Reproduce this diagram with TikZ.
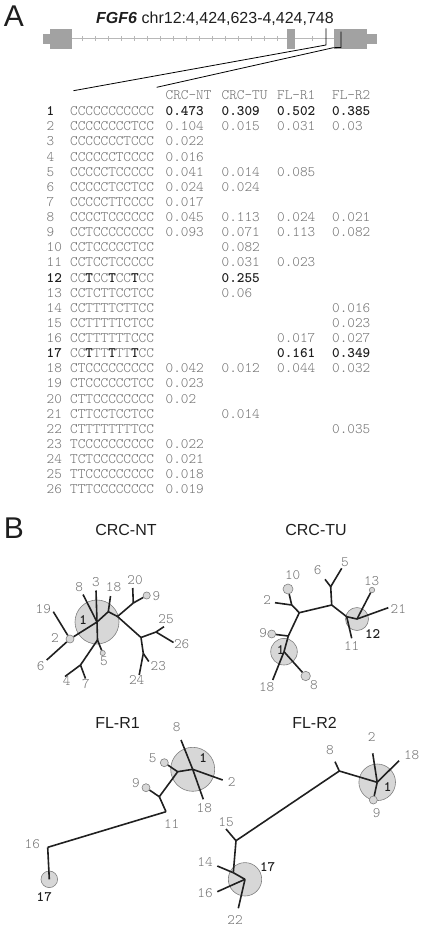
\documentclass[tikz,border=0pt]{standalone}
\usepackage{fontspec}
\newfontfamily\arialfont{Liberation Sans}
\definecolor{tabgray}{HTML}{707070}
\definecolor{darktext}{HTML}{1E1E1E}
\definecolor{hapfill}{HTML}{D7D7D7}
\definecolor{hapline}{HTML}{808080}
\definecolor{exonfill}{HTML}{A2A2A2}
\definecolor{introncol}{HTML}{B8B8B8}
\definecolor{linkcol}{HTML}{202020}
\newcommand\tabfont{\ttfamily\fontseries{l}\fontsize{14.5}{17}\selectfont}
\newcommand\tabbfont{\ttfamily\fontseries{b}\fontsize{14.5}{17}\selectfont}
\newcommand\boldT{{\color{darktext}\bfseries T}}
\tikzset{
  tab/.style={font=\tabfont, text=tabgray, anchor=base west, inner sep=0pt},
  tabb/.style={font=\tabbfont, text=darktext, anchor=base west, inner sep=0pt},
  lab/.style={font=\tabfont, text=tabgray, inner sep=0pt},
  labb/.style={font=\tabbfont, text=darktext, inner sep=0pt},
  hap/.style={circle, draw=hapline, fill=hapfill, line width=0.6pt, inner sep=0pt},
  link/.style={line width=1.6pt, draw=linkcol},
  ttl/.style={font={\arialfont\fontsize{16}{19}\selectfont}, text=darktext, anchor=base, inner sep=0pt},
  panel/.style={font={\arialfont\fontsize{30}{34}\selectfont}, text=darktext, anchor=base, inner sep=0pt},
  exon/.style={fill=exonfill, draw=none}
}
\begin{document}
\begin{tikzpicture}[x=1pt,y=-1pt]
\useasboundingbox (0,0) rectangle (423,928);
% panel A: gene model
\node[panel] (pA) at (14,26.7) {A};
\node[anchor=base, inner sep=0pt, text=darktext, font={\arialfont\fontsize{16}{19}\selectfont}] (gene) at (215,23.3) {\textbf{\textit{FGF6}} chr12:4,424,623-4,424,748};
\draw[introncol, line width=1pt] (43,39) -- (377,39);
\foreach \x in {82,95,...,282,312} \draw[introncol, line width=0.8pt] (\x,36.5) -- (\x,41.5);
\fill[exon] (43.3,34.3) rectangle (50,44.3);
\fill[exon] (50,29) rectangle (71.7,49.3);
\fill[exon] (287.3,29) rectangle (295,49.3);
\fill[exon] (334,29) rectangle (366.7,49.3);
\fill[exon] (366.7,34.3) rectangle (376.7,44.3);
\draw[line width=0.8pt] (326,28.3) -- (326,45) -- (73.5,90.7);
\draw[line width=0.8pt] (341,31.7) -- (341,47.5) -- (333.3,47.7) -- (156.7,87.3);
% table header
\node[tab] (hNT) at (165.5,100) {CRC-NT};
\node[tab] (hTU) at (221.5,100) {CRC-TU};
\node[tab] (hR1) at (277,100) {FL-R1};
\node[tab] (hR2) at (332,100) {FL-R2};
% table rows
\node[tabb] (r1n) at (46.5,115.7) {1}; \node[tab] (r1s) at (70,115.7) {CCCCCCCCCCC};
\node[tabb] (r1a) at (165.5,115.7) {0.473}; \node[tabb] (r1b) at (221.5,115.7) {0.309}; \node[tabb] (r1c) at (277,115.7) {0.502}; \node[tabb] (r1d) at (332,115.7) {0.385};
\node[tab] (r2n) at (46.5,130.8) {2}; \node[tab] (r2s) at (70,130.8) {CCCCCCCCTCC};
\node[tab] (r2a) at (165.5,130.8) {0.104}; \node[tab] (r2b) at (221.5,130.8) {0.015}; \node[tab] (r2c) at (277,130.8) {0.031}; \node[tab] (r2d) at (332,130.8) {0.03};
\node[tab] (r3n) at (46.5,145.9) {3}; \node[tab] (r3s) at (70,145.9) {CCCCCCCTCCC}; \node[tab] (r3a) at (165.5,145.9) {0.022};
\node[tab] (r4n) at (46.5,161.1) {4}; \node[tab] (r4s) at (70,161.1) {CCCCCCTCCCC}; \node[tab] (r4a) at (165.5,161.1) {0.016};
\node[tab] (r5n) at (46.5,176.2) {5}; \node[tab] (r5s) at (70,176.2) {CCCCCTCCCCC};
\node[tab] (r5a) at (165.5,176.2) {0.041}; \node[tab] (r5b) at (221.5,176.2) {0.014}; \node[tab] (r5c) at (277,176.2) {0.085};
\node[tab] (r6n) at (46.5,191.3) {6}; \node[tab] (r6s) at (70,191.3) {CCCCCTCCTCC}; \node[tab] (r6a) at (165.5,191.3) {0.024}; \node[tab] (r6b) at (221.5,191.3) {0.024};
\node[tab] (r7n) at (46.5,206.4) {7}; \node[tab] (r7s) at (70,206.4) {CCCCCTTCCCC}; \node[tab] (r7a) at (165.5,206.4) {0.017};
\node[tab] (r8n) at (46.5,221.5) {8}; \node[tab] (r8s) at (70,221.5) {CCCCTCCCCCC};
\node[tab] (r8a) at (165.5,221.5) {0.045}; \node[tab] (r8b) at (221.5,221.5) {0.113}; \node[tab] (r8c) at (277,221.5) {0.024}; \node[tab] (r8d) at (332,221.5) {0.021};
\node[tab] (r9n) at (46.5,236.7) {9}; \node[tab] (r9s) at (70,236.7) {CCTCCCCCCCC};
\node[tab] (r9a) at (165.5,236.7) {0.093}; \node[tab] (r9b) at (221.5,236.7) {0.071}; \node[tab] (r9c) at (277,236.7) {0.113}; \node[tab] (r9d) at (332,236.7) {0.082};
\node[tab] (r10n) at (46.5,251.8) {10}; \node[tab] (r10s) at (70,251.8) {CCTCCCCCTCC}; \node[tab] (r10b) at (221.5,251.8) {0.082};
\node[tab] (r11n) at (46.5,266.9) {11}; \node[tab] (r11s) at (70,266.9) {CCTCCTCCCCC}; \node[tab] (r11b) at (221.5,266.9) {0.031}; \node[tab] (r11c) at (277,266.9) {0.023};
\node[tabb] (r12n) at (46.5,282.0) {12}; \node[tab] (r12s) at (70,282.0) {CC\boldT CC\boldT CC\boldT CC}; \node[tabb] (r12b) at (221.5,282.0) {0.255};
\node[tab] (r13n) at (46.5,297.1) {13}; \node[tab] (r13s) at (70,297.1) {CCTCTTCCTCC}; \node[tab] (r13b) at (221.5,297.1) {0.06};
\node[tab] (r14n) at (46.5,312.3) {14}; \node[tab] (r14s) at (70,312.3) {CCTTTTCTTCC}; \node[tab] (r14d) at (332,312.3) {0.016};
\node[tab] (r15n) at (46.5,327.4) {15}; \node[tab] (r15s) at (70,327.4) {CCTTTTTCTCC}; \node[tab] (r15d) at (332,327.4) {0.023};
\node[tab] (r16n) at (46.5,342.5) {16}; \node[tab] (r16s) at (70,342.5) {CCTTTTTTCCC}; \node[tab] (r16c) at (277,342.5) {0.017}; \node[tab] (r16d) at (332,342.5) {0.027};
\node[tabb] (r17n) at (46.5,357.6) {17}; \node[tab] (r17s) at (70,357.6) {CC\boldT TT\boldT TT\boldT CC}; \node[tabb] (r17c) at (277,357.6) {0.161}; \node[tabb] (r17d) at (332,357.6) {0.349};
\node[tab] (r18n) at (46.5,372.7) {18}; \node[tab] (r18s) at (70,372.7) {CTCCCCCCCCC};
\node[tab] (r18a) at (165.5,372.7) {0.042}; \node[tab] (r18b) at (221.5,372.7) {0.012}; \node[tab] (r18c) at (277,372.7) {0.044}; \node[tab] (r18d) at (332,372.7) {0.032};
\node[tab] (r19n) at (46.5,387.9) {19}; \node[tab] (r19s) at (70,387.9) {CTCCCCCCTCC}; \node[tab] (r19a) at (165.5,387.9) {0.023};
\node[tab] (r20n) at (46.5,403.0) {20}; \node[tab] (r20s) at (70,403.0) {CTTCCCCCCCC}; \node[tab] (r20a) at (165.5,403.0) {0.02};
\node[tab] (r21n) at (46.5,418.1) {21}; \node[tab] (r21s) at (70,418.1) {CTTCCTCCTCC}; \node[tab] (r21b) at (221.5,418.1) {0.014};
\node[tab] (r22n) at (46.5,433.2) {22}; \node[tab] (r22s) at (70,433.2) {CTTTTTTTTCC}; \node[tab] (r22d) at (332,433.2) {0.035};
\node[tab] (r23n) at (46.5,448.3) {23}; \node[tab] (r23s) at (70,448.3) {TCCCCCCCCCC}; \node[tab] (r23a) at (165.5,448.3) {0.022};
\node[tab] (r24n) at (46.5,463.5) {24}; \node[tab] (r24s) at (70,463.5) {TCTCCCCCCCC}; \node[tab] (r24a) at (165.5,463.5) {0.021};
\node[tab] (r25n) at (46.5,478.6) {25}; \node[tab] (r25s) at (70,478.6) {TTCCCCCCCCC}; \node[tab] (r25a) at (165.5,478.6) {0.018};
\node[tab] (r26n) at (46.5,493.7) {26}; \node[tab] (r26s) at (70,493.7) {TTTCCCCCCCC}; \node[tab] (r26a) at (165.5,493.7) {0.019};
% panel B
\node[panel] (pB) at (14,538) {B};
\node[ttl] (tNT) at (126,535) {CRC-NT};
\node[ttl] (tTU) at (316,535) {CRC-TU};
\node[ttl] (tR1) at (117.5,728) {FL-R1};
\node[ttl] (tR2) at (314.5,728) {FL-R2};
% CRC-NT network
\node[hap, minimum size=44pt] (nt1) at (97,622){};
\node[hap, minimum size=8pt] (nt2) at (70,639){};
\node[hap, minimum size=5.2pt] (nt5) at (102.7,653){};
\node[hap, minimum size=7.2pt] (nt9) at (146.7,595.5){};
\coordinate (ntA) at (97.5,640);
\coordinate (ntB) at (80.5,665);
\coordinate (ntD) at (108.3,611.7);
\coordinate (ntE) at (117.5,616.5);
\coordinate (ntG) at (133.3,603);
\coordinate (ntF) at (141,637.5);
\coordinate (ntH) at (156,632);
\coordinate (ntI) at (143.3,653.5);
\coordinate (nt8e) at (83,594.5);
\coordinate (nt3e) at (96,590.5);
\coordinate (nt18e) at (110.5,596);
\coordinate (nt20e) at (132.7,588);
\coordinate (nt19e) at (53.3,611.7);
\coordinate (nt6e) at (46.7,660);
\coordinate (nt4e) at (65,676.5);
\coordinate (nt7e) at (85.5,678.5);
\coordinate (nt25e) at (164,626.7);
\coordinate (nt26e) at (173.5,642.5);
\coordinate (nt23e) at (148.8,661.5);
\coordinate (nt24e) at (139.2,675);
\draw[link] (nt1.center) -- (nt8e);
\draw[link] (nt1.center) -- (nt3e);
\draw[link] (nt1.center) -- (ntA);
\draw[link] (ntA) -- (nt5);
\draw[link] (ntA) -- (ntB);
\draw[link] (ntB) -- (nt4e);
\draw[link] (ntB) -- (nt7e);
\draw[link] (nt1.center) -- (nt2);
\draw[link] (nt2) -- (nt6e);
\draw[link] (nt2) -- (nt19e);
\draw[link] (nt1.center) -- (ntD);
\draw[link] (ntD) -- (nt18e);
\draw[link] (ntD) -- (ntE);
\draw[link] (ntE) -- (ntG);
\draw[link] (ntG) -- (nt20e);
\draw[link] (ntG) -- (nt9);
\draw[link] (ntE) -- (ntF);
\draw[link] (ntF) -- (ntH);
\draw[link] (ntH) -- (nt25e);
\draw[link] (ntH) -- (nt26e);
\draw[link] (ntF) -- (ntI);
\draw[link] (ntI) -- (nt23e);
\draw[link] (ntI) -- (nt24e);
\node[labb] (ntl1) at (83.3,620) {1};
\node[lab] (ntl8) at (79.3,587.5) {8};
\node[lab] (ntl3) at (96,582.5) {3};
\node[lab] (ntl18) at (113.5,587) {18};
\node[lab] (ntl20) at (135,580.5) {20};
\node[lab] (ntl9) at (156.5,596) {9};
\node[lab] (ntl19) at (43.3,609) {19};
\node[lab] (ntl2) at (55,638) {2};
\node[lab] (ntl6) at (40.7,666.5) {6};
\node[lab] (ntl25) at (166,619) {25};
\node[lab] (ntl26) at (181.7,644) {26};
\node[lab] (ntl5) at (104,661) {5};
\node[lab] (ntl23) at (158.3,666.5) {23};
\node[lab] (ntl4) at (66.7,681) {4};
\node[lab] (ntl7) at (86,684.5) {7};
\node[lab] (ntl24) at (136.7,680) {24};
% CRC-TU network
\node[hap, minimum size=26.6pt] (tu1) at (284,651.7){};
\node[hap, minimum size=23pt] (tu12) at (357,619){};
\node[hap, minimum size=10pt] (tu10) at (288,589){};
\node[hap, minimum size=8pt] (tu9) at (271.7,634){};
\node[hap, minimum size=9.4pt] (tu8) at (305.7,676){};
\node[hap, minimum size=5.4pt] (tu13) at (372,590){};
\coordinate (tuK) at (288.3,636);
\coordinate (tuM) at (299.3,612.7);
\coordinate (tuN) at (291.7,605);
\coordinate (tuP) at (331.7,605);
\coordinate (tuQ) at (330.7,586.7);
\coordinate (tuR) at (346.7,616.7);
\coordinate (tu18e) at (272.7,680);
\coordinate (tu2e) at (275,602.7);
\coordinate (tu6e) at (325,579.3);
\coordinate (tu5e) at (341.7,568.3);
\coordinate (tu11e) at (351.7,638.3);
\coordinate (tu21e) at (388.3,607.7);
\draw[link] (tu1.center) -- (tu18e);
\draw[link] (tu1.center) -- (tu8);
\draw[link] (tu1.center) -- (tuK);
\draw[link] (tuK) -- (tu9);
\draw[link] (tuK) -- (tuM);
\draw[link] (tuM) -- (tuN);
\draw[link] (tuN) -- (tu2e);
\draw[link] (tuN) -- (tu10);
\draw[link] (tuM) -- (tuP);
\draw[link] (tuP) -- (tuQ);
\draw[link] (tuQ) -- (tu6e);
\draw[link] (tuQ) -- (tu5e);
\draw[link] (tuP) -- (tuR);
\draw[link] (tuR) -- (tu11e);
\draw[link] (tuR) -- (tu12.center);
\draw[link] (tu12.center) -- (tu13);
\draw[link] (tu12.center) -- (tu21e);
\node[labb] (tul1) at (280.7,650) {1};
\node[labb] (tul12) at (372.7,634.3) {12};
\node[lab] (tul10) at (292.7,575) {10};
\node[lab] (tul2) at (267.3,600) {2};
\node[lab] (tul6) at (317.7,570) {6};
\node[lab] (tul5) at (345,561.7) {5};
\node[lab] (tul13) at (371.7,581.5) {13};
\node[lab] (tul21) at (398.3,609.3) {21};
\node[lab] (tul9) at (263.3,632.7) {9};
\node[lab] (tul11) at (351.7,646) {11};
\node[lab] (tul18) at (266.7,686.7) {18};
\node[lab] (tul8) at (314,685.5) {8};
% FL-R1 network
\node[hap, minimum size=44pt] (ra1) at (192.7,769.3){};
\node[hap, minimum size=8pt] (ra5) at (164.3,762.7){};
\node[hap, minimum size=8pt] (ra9) at (146,787.7){};
\node[hap, minimum size=16.6pt] (ra17) at (49.3,879.3){};
\coordinate (raS) at (177.7,771.7);
\coordinate (raT) at (159.3,796.7);
\coordinate (raU) at (166,811.7);
\coordinate (raV) at (47.7,847.3);
\coordinate (ra8e) at (181,740);
\coordinate (ra18e) at (203.3,799.3);
\coordinate (ra2e) at (222.7,780);
\draw[link] (ra1.center) -- (ra8e);
\draw[link] (ra1.center) -- (ra18e);
\draw[link] (ra1.center) -- (ra2e);
\draw[link] (ra1.center) -- (raS);
\draw[link] (raS) -- (ra5);
\draw[link] (raS) -- (raT);
\draw[link] (raT) -- (ra9);
\draw[link] (raT) -- (raU);
\draw[link] (raU) -- (raV);
\draw[link] (raV) -- (ra17.center);
\node[labb] (ral1) at (203.3,758.3) {1};
\node[labb] (ral17) at (44.3,896.7) {17};
\node[lab] (ral8) at (176.7,727.3) {8};
\node[lab] (ral5) at (152.7,758.3) {5};
\node[lab] (ral9) at (136,783.3) {9};
\node[lab] (ral2) at (231.7,781.7) {2};
\node[lab] (ral18) at (204.3,808.3) {18};
\node[lab] (ral11) at (171.7,824) {11};
\node[lab] (ral16) at (32.3,844.3) {16};
% FL-R2 network
\node[hap, minimum size=36.6pt] (rb1) at (377.2,782.3){};
\node[hap, minimum size=8pt] (rb9) at (373.3,800){};
\node[hap, minimum size=33.4pt] (rb17) at (245,879.3){};
\coordinate (rbW) at (339.3,771);
\coordinate (rbX) at (236,840.7);
\coordinate (rbY) at (233.3,872.7);
\coordinate (rb2e) at (372.7,753.3);
\coordinate (rb18e) at (399,760.7);
\coordinate (rb8e) at (335,761.7);
\coordinate (rb15e) at (226,829);
\coordinate (rb14e) at (217.3,866);
\coordinate (rb16e) at (217.3,891.7);
\coordinate (rb22e) at (238.3,908.3);
\draw[link] (rb1.center) -- (rb2e);
\draw[link] (rb1.center) -- (rb18e);
\draw[link] (rb1.center) -- (rb9);
\draw[link] (rb1.center) -- (rbW);
\draw[link] (rbW) -- (rb8e);
\draw[link] (rbW) -- (rbX);
\draw[link] (rbX) -- (rb15e);
\draw[link] (rbX) -- (rbY);
\draw[link] (rbY) -- (rb14e);
\draw[link] (rbY) -- (rb17.center);
\draw[link] (rb17.center) -- (rb16e);
\draw[link] (rb17.center) -- (rb22e);
\node[labb] (rbl1) at (387.7,786.7) {1};
\node[labb] (rbl17) at (267.7,867.3) {17};
\node[lab] (rbl8) at (330,750) {8};
\node[lab] (rbl2) at (371.7,737.3) {2};
\node[lab] (rbl18) at (411.7,755) {18};
\node[lab] (rbl9) at (376.7,813.3) {9};
\node[lab] (rbl15) at (226,821.7) {15};
\node[lab] (rbl14) at (205,861.7) {14};
\node[lab] (rbl16) at (205,892.7) {16};
\node[lab] (rbl22) at (235,920) {22};
\end{tikzpicture}
\end{document}
